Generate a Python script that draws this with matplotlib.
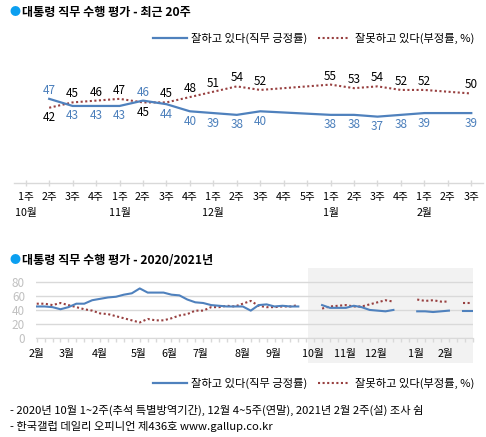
import numpy as np
import matplotlib
matplotlib.use("Agg")
import matplotlib.pyplot as plt
from matplotlib.lines import Line2D

plt.rcParams['font.family'] = ['Noto Sans CJK KR', 'DejaVu Sans']

nan = np.nan
# ---------------- data ----------------
week_labels = ['1주', '2주', '3주', '4주', '1주', '2주', '3주', '4주', '1주', '2주',
               '3주', '4주', '5주', '1주', '2주', '3주', '4주', '1주', '2주', '3주']
month_labels_top = ['10월', '11월', '12월', '1월', '2월']
month_pos_top = [0, 4, 8, 13, 17]

approve_recent = [nan, 47, 43, 43, 43, 46, 44, 40, 39, 38, 40, nan, nan, 38, 38, 37, 38, 39, nan, 39]
disapprove_recent = [nan, 42, 45, 46, 47, 45, 45, 48, 51, 54, 52, nan, nan, 55, 53, 54, 52, 52, nan, 50]

# 2020 Feb 1st week .. 2020 Sep last week
approve_2020 = [45, 45, 44, 41, 44, 49, 49, 54, 56, 58, 59, 62, 64, 71, 65, 65, 65, 62,
                61, 55, 51, 50, 47, 46, 45, 45, 45, 39, 47, 48, 45, 46, 45, 45]
disapprove_2020 = [49, 49, 47, 50, 47, 44, 41, 39, 35, 34, 31, 28, 25, 22, 27, 25, 25, 28,
                   32, 34, 39, 39, 44, 44, 46, 45, 49, 53, 46, 44, 44, 45, 45, 47]
month_labels_bottom = ['2월', '3월', '4월', '5월', '6월', '7월', '8월', '9월',
                       '10월', '11월', '12월', '1월', '2월']
month_pos_bottom = [0, 3.8, 7.9, 12.9, 16.7, 20.7, 25.9, 29.8, 34.8, 38.9, 42.8, 47.8, 51.6]
shade_start = 34.2

legend_pos = '잘하고 있다(직무 긍정률)'
legend_neg = '잘못하고 있다(부정률, %)'
title_top = '대통령 직무 수행 평가 - 최근 20주'
title_bottom = '대통령 직무 수행 평가 - 2020/2021년'
note1 = '- 2020년 10월 1~2주(추석 특별방역기간), 12월 4~5주(연말), 2021년 2월 2주(설) 조사 쉼'
note2 = '- 한국갤럽 데일리 오피니언 제436호 www.gallup.co.kr'

# ---------------- styles ----------------
BLUE = '#4f81bd'
BLUE_TXT = '#4a7ebb'
RED = '#984040'
GRID = '#d9d9d9'
BULLET = '#0b9ff0'
FS = 8.1
TICKFS = 7.7

W, H = 486, 437
fig = plt.figure(figsize=(W / 100, H / 100), dpi=100)


def rect(l, t, r, b):
    return [l / W, 1 - b / H, (r - l) / W, (b - t) / H]


def fx(x):
    return x / W


def fy(y):
    return 1 - y / H


def title(y, txt):
    fig.text(fx(9), fy(y), '●', color=BULLET, fontsize=8, va='center', ha='left')
    fig.text(fx(21.5), fy(y), txt, fontsize=8.7, fontweight='bold', va='center', ha='left')


def legend(y):
    fig.add_artist(Line2D([fx(153), fx(187)], [fy(y), fy(y)], color=BLUE, lw=1.6,
                          transform=fig.transFigure))
    fig.text(fx(191), fy(y), legend_pos, fontsize=FS, va='center', ha='left')
    fig.add_artist(Line2D([fx(318), fx(349)], [fy(y), fy(y)], color=RED, lw=1.5,
                          linestyle=(0, (1, 1.2)), dash_capstyle='butt',
                          transform=fig.transFigure))
    fig.text(fx(355), fy(y), legend_neg, fontsize=FS, va='center', ha='left')


# ---------------- top chart ----------------
title(12.5, title_top)
legend(38.3)

ax1 = fig.add_axes(rect(14, 60, 483, 182.5))
ax1.set_xlim(-0.5, 19.5)
ax1.set_ylim(0, (182.5 - 60) / 1.78)
for s in ['top', 'left', 'right']:
    ax1.spines[s].set_visible(False)
ax1.spines['bottom'].set_color(GRID)
ax1.spines['bottom'].set_linewidth(1)
ax1.set_yticks([])
ax1.set_xticks(range(len(week_labels)))
ax1.set_xticklabels([])
ax1.tick_params(axis='x', direction='inout', length=4, color=GRID, width=1)

xr = np.arange(len(approve_recent))
a = np.array(approve_recent, float)
d = np.array(disapprove_recent, float)
ma = ~np.isnan(a)
md = ~np.isnan(d)
ax1.plot(xr[ma], a[ma], color=BLUE, lw=1.6, solid_joinstyle='round', zorder=3)
ax1.plot(xr[md], d[md], color=RED, lw=1.5, linestyle=(0, (1, 1.2)),
         dash_capstyle='butt', zorder=2)

for i in xr:
    if np.isnan(a[i]) or np.isnan(d[i]):
        continue
    pos_up = a[i] >= d[i]
    up_off, dn_off = 8.5 * 0.72, -10 * 0.72
    ax1.annotate(f'{int(a[i])}', (i, a[i]), xytext=(0, up_off if pos_up else dn_off),
                 textcoords='offset points', ha='center', va='center',
                 fontsize=8.4, color=BLUE_TXT)
    ax1.annotate(f'{int(d[i])}', (i, d[i]), xytext=(0, dn_off if pos_up else up_off),
                 textcoords='offset points', ha='center', va='center',
                 fontsize=8.4, color='black')

for i, lab in enumerate(week_labels):
    ax1.annotate(lab, (i, 0), xycoords=('data', 'axes fraction'),
                 xytext=(0, -14.4 * 0.72), textcoords='offset points',
                 ha='center', va='center', fontsize=TICKFS)
for p, lab in zip(month_pos_top, month_labels_top):
    ax1.annotate(lab, (p, 0), xycoords=('data', 'axes fraction'),
                 xytext=(0, -30.4 * 0.72), textcoords='offset points',
                 ha='center', va='center', fontsize=TICKFS)

# ---------------- bottom chart ----------------
title(260, title_bottom)

ax2 = fig.add_axes(rect(36, 268.3, 472.7, 337.7))
ax2.set_xlim(-0.09, 55)
ax2.set_ylim(0, 100)
for s in ['top', 'left', 'right']:
    ax2.spines[s].set_visible(False)
ax2.spines['bottom'].set_color(GRID)
ax2.set_yticks([0, 20, 40, 60, 80])
ax2.tick_params(axis='y', length=0, labelcolor='#c0c0c0', labelsize=8.4, pad=8)
ax2.grid(axis='y', color=GRID, lw=1, zorder=1)
ax2.set_xticks(np.arange(0, 56), minor=True)
ax2.set_xticks([])
ax2.tick_params(axis='x', which='minor', direction='out', length=3, color=GRID, width=1)
ax2.set_axisbelow(True)
ax2.axvspan(shade_start, 55, ymin=-0.36, ymax=1, color='#f2f2f2', zorder=0,
            clip_on=False, lw=0)

approve_all = np.array(approve_2020 + [nan] + approve_recent, float)
disapprove_all = np.array(disapprove_2020 + [nan] + disapprove_recent, float)
xb = np.arange(len(approve_all))
ax2.plot(xb, approve_all, color=BLUE, lw=1.5, zorder=3)
ax2.plot(xb, disapprove_all, color=RED, lw=1.5, linestyle=(0, (1, 1.2)),
         dash_capstyle='butt', zorder=2)


def isolated(arr):
    out = []
    for i in range(len(arr)):
        if np.isnan(arr[i]):
            continue
        left = i > 0 and not np.isnan(arr[i - 1])
        right = i < len(arr) - 1 and not np.isnan(arr[i + 1])
        if not left and not right:
            out.append(i)
    return out


for i in isolated(approve_all):
    ax2.plot([i - 0.25, i + 1.0], [approve_all[i]] * 2, color=BLUE, lw=1.5, zorder=3)
for i in isolated(disapprove_all):
    ax2.plot([i - 0.25, i + 0.6], [disapprove_all[i]] * 2, color=RED, lw=1.5,
             linestyle=(0, (1, 1.2)), dash_capstyle='butt', zorder=2)

for p, lab in zip(month_pos_bottom, month_labels_bottom):
    ax2.annotate(lab, (p, 0), xycoords=('data', 'axes fraction'),
                 xytext=(0, -16.3 * 0.72), textcoords='offset points',
                 ha='center', va='center', fontsize=TICKFS)

legend(383.3)

fig.text(fx(10), fy(410), note1, fontsize=FS, va='center', ha='left')
fig.text(fx(10), fy(426.7), note2, fontsize=FS, va='center', ha='left')

fig.savefig('out.png', dpi=100)
